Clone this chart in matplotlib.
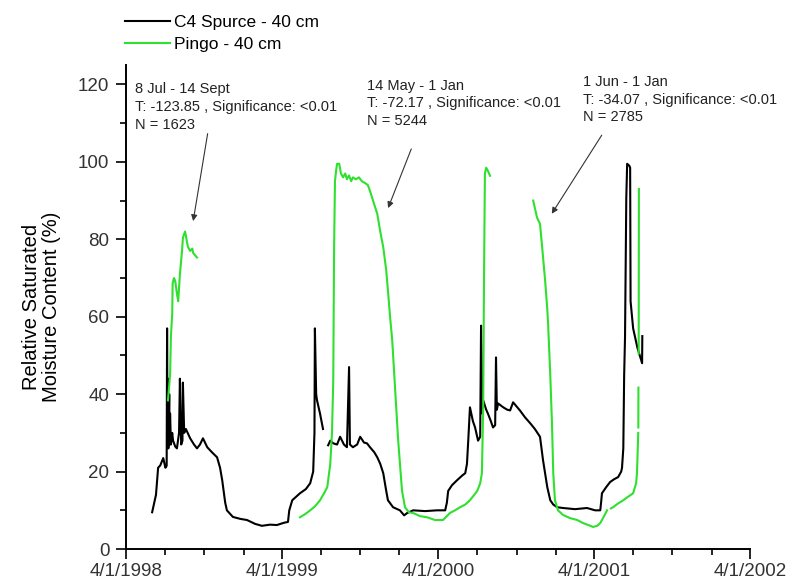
import matplotlib
matplotlib.use('Agg')
import matplotlib.pyplot as plt
import numpy as np
import pandas as pd
from matplotlib.ticker import MultipleLocator
import matplotlib.dates as mdates

plt.rcParams['font.family'] = ['Liberation Sans', 'DejaVu Sans']

nan = np.nan

# days after 4/1/1998
c4_days = [61, 70, 75, 80, 87, 92, 95, 96, 97, 98, 99, 101, 102, 103, 105, 108, 110, 115, 119, 124,
           126, 129, 132, 133, 136, 140, 150, 159, 166, 173, 180, 190, 201, 213, 220, 225, 232, 236, 250, 267,
           283, 302, 318, 337, 353, 370, 379, 382, 389, 398, 407, 421, 431, 438, 441, 442, 445, 447, 454, 461,
           467,
           473, 478, 485, 494, 501, 510, 517, 522, 524, 531, 541, 548, 557, 564, 571, 581, 588, 595, 602, 609,
           613, 625, 641, 651, 658, 672, 700, 728, 747, 751, 754, 763, 775, 787, 794, 798, 801, 805, 812, 817,
           824, 829, 831, 834, 836, 843, 847, 854, 859, 864, 866, 868, 871, 883, 892, 899, 906, 913, 922, 934,
           946, 957, 969, 976, 986, 993, 1000, 1009, 1023, 1051, 1079, 1098, 1110, 1112, 1114, 1124, 1133, 1142,
           1152, 1159, 1161, 1164, 1166, 1168, 1171, 1173, 1178, 1180, 1181, 1187, 1197, 1204, 1208, 1208.5]
c4_vals = [9.5, 14, 21, 21.6, 23.5, 21, 21.5, 57, 28, 44, 26, 40, 27, 35, 27, 30, 28, 26.5, 26, 30,
           44, 27, 28, 43, 30, 31, 28.6, 27, 26, 27, 28.6, 26.3, 25, 23.7, 21, 17.8, 12, 10, 8.3, 7.8,
           7.5, 6.5, 6, 6.3, 6.2, 6.8, 7, 10, 12.6, 13.5, 14.4, 15.5, 17, 20, 30, 57, 40, 38.4, 35, 31,
           nan,
           26.8, 28, 27.3, 27, 29, 27, 26.3, 47, 27, 26.3, 27, 29, 27.5, 27.3, 26.3, 25, 23.7, 22, 19.6, 15,
           12.6, 10.8, 10, 8.7, 9.3, 10, 9.8, 10, 10, 12, 15, 16.5, 17.8, 19, 19.6, 22, 28, 36.6, 33, 31.4,
           28, 29, 57.7, 35, 38.4, 36, 35, 33, 31.4, 32, 49.5, 36, 37.6, 36.6, 36, 35.8, 37.9, 37, 35.8, 34,
           32.5, 31, 29, 23, 16, 12.6, 11.5, 10.8, 10.6, 10.3, 10.6, 10, 10, 12, 14.4, 16, 17.3, 18,
           18.6, 20, 21, 26, 45, 54.6, 90.7, 99.5, 99, 98.5, 64, 57, 52, 49.5, 48, 55]

pingo_days = [98, 103, 105, 108, 109, 112, 115, 119, 122, 126, 131, 133, 138, 140, 143, 145, 150, 155, 157, 162,
              166,
              200,
              407, 419, 431, 442, 454, 464, 471, 478, 482, 485, 487, 489, 492, 494, 499, 503, 508, 513, 517, 522,
              527, 531, 538, 545, 552, 560, 566, 571, 581, 588, 595, 602, 609, 613, 618, 623, 630, 637, 646, 653,
              662, 672, 688, 705, 723, 742, 751, 758, 770, 782, 794, 805, 815, 822, 829, 833, 836, 838, 840, 843,
              847, 852,
              900,
              953, 962, 969, 974, 981, 986, 988, 993, 997, 1000, 1004, 1011, 1023, 1039, 1056, 1070, 1087, 1093,
              1103, 1110, 1119, 1126, 1130, 1135, 1140, 1152, 1164, 1175, 1187, 1194, 1196, 1199,
              1199.1, 1199.2, 1199.4, 1199.6, 1200, 1200.5]
pingo_vals = [38.4, 45, 55, 60.8, 68.6, 70, 69.3, 66, 64, 71, 77, 80.4, 82, 81, 79, 78, 77, 77.6, 76.5, 75.8,
              75.3,
              nan,
              8.2, 9, 10, 11, 12.6, 14.5, 16, 22, 30, 43.6, 78, 95, 98, 99.5, 99.5, 97, 96, 97, 95.5, 96.5,
              95, 96, 95.5, 96, 95, 94.5, 94, 92.5, 89, 86.6, 82, 78, 72, 66.8, 60, 54, 41, 28, 15, 10.8,
              9.5, 9.3, 8.5, 8.2, 7.5, 7.5, 8.5, 9.3, 10, 10.8, 11.5, 12.6, 14, 15, 17, 19.6, 36.6, 71, 97, 98.5,
              97.7, 96.4,
              nan,
              90, 85.6, 84, 78, 69.3, 62, 58, 45, 32.5, 19.6, 12.6, 10, 8.8, 8, 7.5, 6.7, 6, 5.7,
              6, 6.7, 8.5, 10, nan, 10.5, 10.8, 11.8, 12.6, 13.5, 14.4, 17, 19.6, 30,
              nan, 31.4, 41.7, nan, 50.5, 93]

tick_labels = ['4/1/1998', '4/1/1999', '4/1/2000', '4/1/2001', '4/1/2002']

base = pd.Timestamp('1998-04-01')
c4_dates = base + pd.to_timedelta(c4_days, unit='D')
pingo_dates = base + pd.to_timedelta(pingo_days, unit='D')
tick_dates = pd.to_datetime(tick_labels, format='%m/%d/%Y')

fig = plt.figure(figsize=(7.88, 5.81), dpi=100)
ax = fig.add_axes([0.160, 0.055, 0.792, 0.833])

ax.plot(c4_dates, c4_vals, color='black', lw=1.5, label='C4 Spurce - 40 cm')
ax.plot(pingo_dates, pingo_vals, color='#2fe02f', lw=1.5, label='Pingo - 40 cm')

ax.set_xlim(tick_dates[0], tick_dates[-1])
ax.set_ylim(0, 125)
ax.set_xticks(tick_dates)
ax.set_xticklabels(tick_labels)
ax.xaxis.set_minor_locator(mdates.MonthLocator(bymonth=[1, 7, 10]))
ax.yaxis.set_major_locator(MultipleLocator(20))
ax.yaxis.set_minor_locator(MultipleLocator(10))

for s in ['top', 'right']:
    ax.spines[s].set_visible(False)
for s in ['left', 'bottom']:
    ax.spines[s].set_linewidth(1.4)
ax.tick_params(which='major', length=7, width=1.2, labelsize=13.5, color='black', labelcolor='#333333')
ax.tick_params(which='minor', length=4.5, width=1.2)
ax.tick_params(axis='x', pad=3)
ax.tick_params(axis='y', pad=5)

ax.set_ylabel('Relative Saturated\nMoisture Content (%)', fontsize=14.5, labelpad=12, linespacing=1.1)

# 注释
notes = [
    ('8 Jul - 14 Sept\nT: -123.85 , Significance: <0.01\nN = 1623', (21, 120.5), (192, 108), (156, 84)),
    ('14 May - 1 Jan\nT: -72.17 , Significance: <0.01\nN = 5244', (564, 121.5), (670, 104), (611, 87.4)),
    ('1 Jun - 1 Jan\nT: -34.07 , Significance: <0.01\nN = 2785', (1070, 122.5), (1117, 107.5), (993, 86)),
]
for txt, tpos, start, end in notes:
    ax.text(base + pd.Timedelta(days=tpos[0]), tpos[1], txt, fontsize=10.5, va='top', ha='left',
            linespacing=1.35, color='#222222')
    ax.annotate('', xy=(base + pd.Timedelta(days=end[0]), end[1]),
                xytext=(base + pd.Timedelta(days=start[0]), start[1]),
                arrowprops=dict(arrowstyle='-|>', color='#333333', lw=0.8, mutation_scale=9))

fig.legend(loc='upper left', bbox_to_anchor=(0.158, 0.975), frameon=False, fontsize=12.5,
           borderaxespad=0, borderpad=0, handlelength=2.6, handletextpad=0.25, labelspacing=0.4)

fig.savefig('out.png', dpi=100)
